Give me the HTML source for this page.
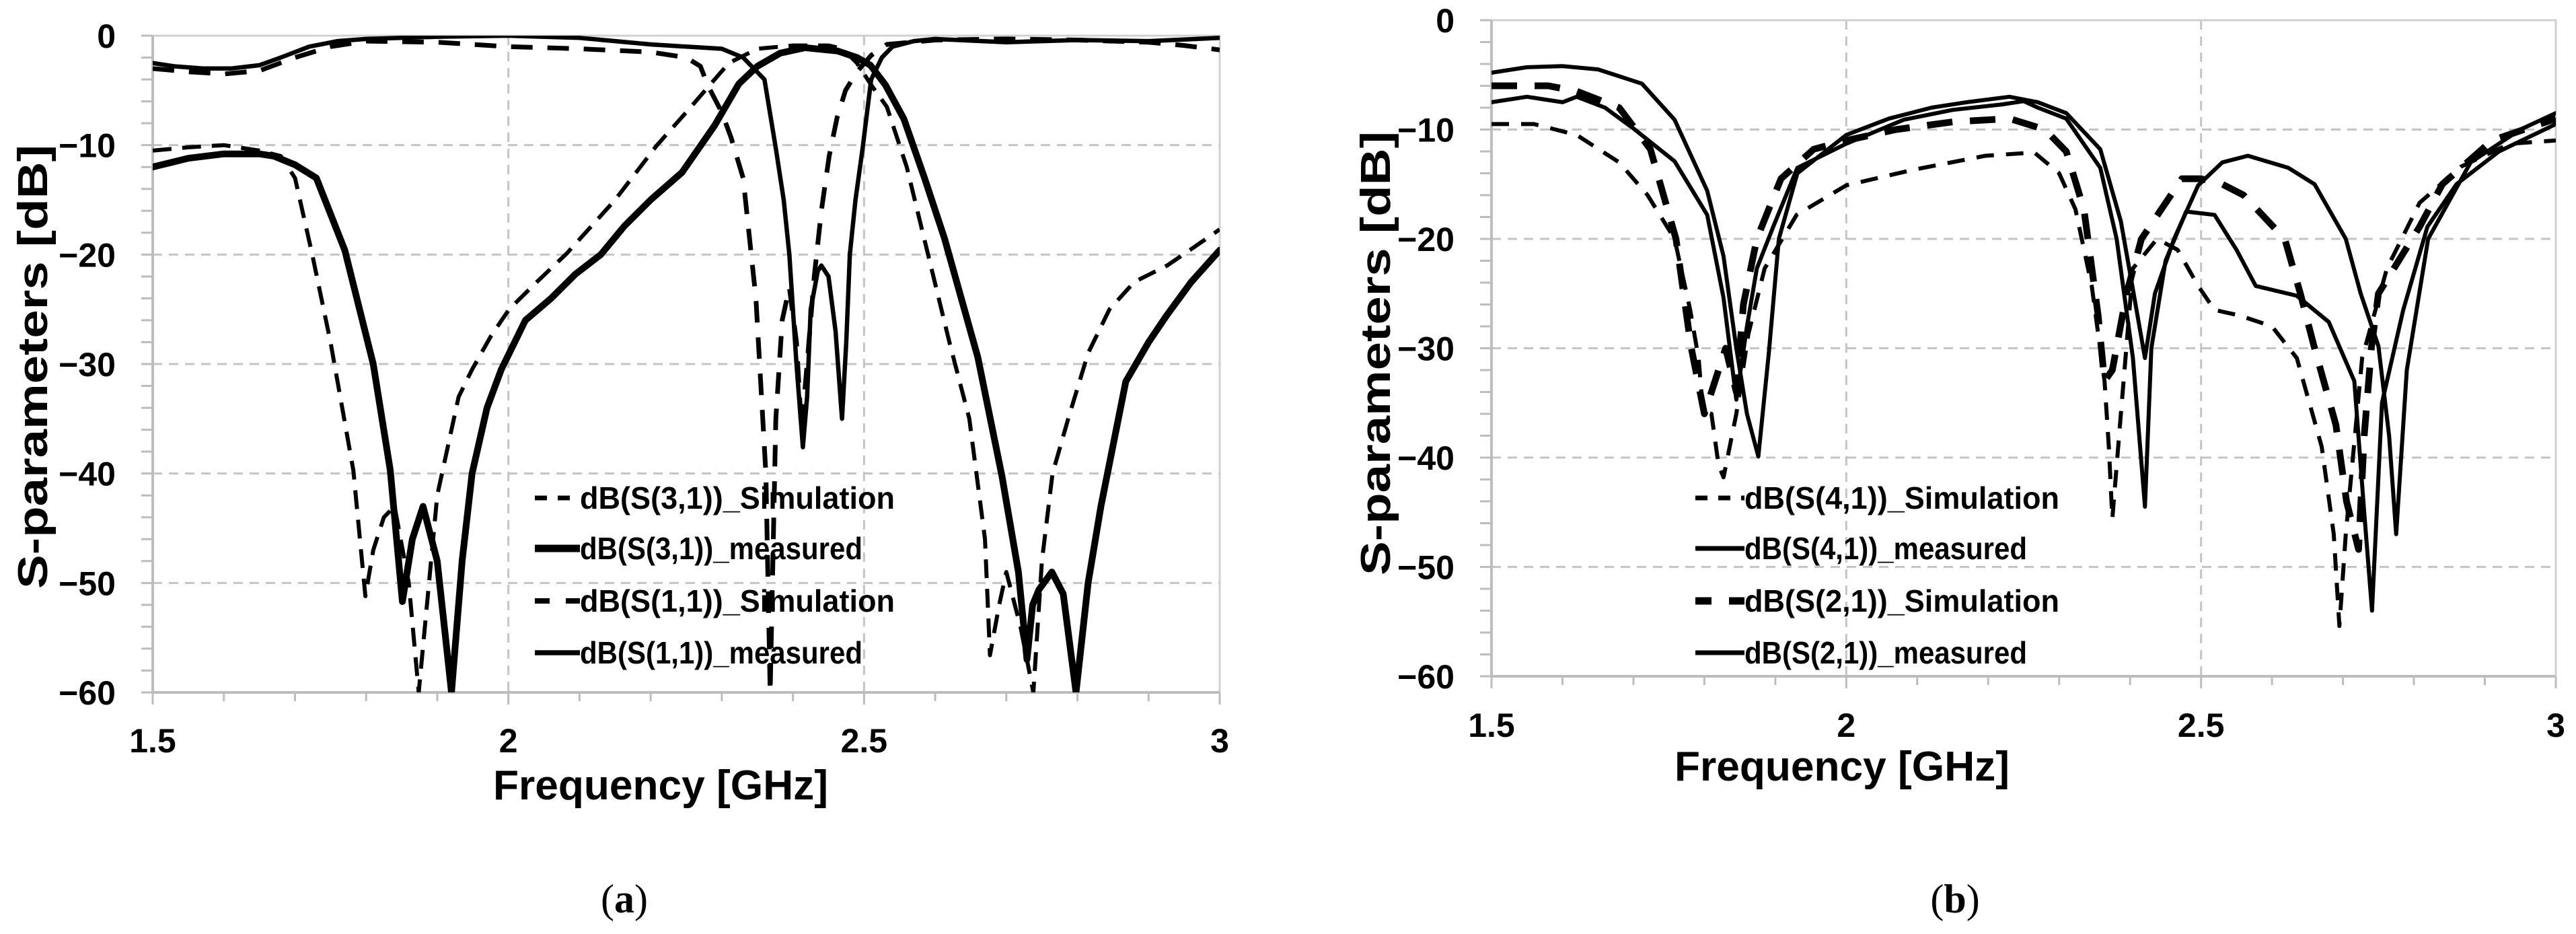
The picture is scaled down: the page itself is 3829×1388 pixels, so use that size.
<!DOCTYPE html>
<html><head><meta charset="utf-8"><style>
html,body{margin:0;padding:0;background:#fff;}
svg{display:block;font-family:"Liberation Sans",sans-serif;}
</style></head><body>
<svg id="fig" width="3829" height="1388" viewBox="0 0 3829 1388" xmlns="http://www.w3.org/2000/svg">
<defs>
<clipPath id="clipA"><rect x="227" y="53" width="1586" height="976"/></clipPath>
<clipPath id="clipB"><rect x="2217" y="30" width="1582" height="975"/></clipPath>
</defs>
<g id="panelA"></g>
<g id="panelB"></g>
<text x="928" y="1356" font-family="'Liberation Serif',serif" font-size="60" text-anchor="middle">(<tspan font-weight="bold">a</tspan>)</text>
<text x="2906" y="1356" font-family="'Liberation Serif',serif" font-size="60" text-anchor="middle">(<tspan font-weight="bold">b</tspan>)</text>
</svg>
<script>
// ---- shared axis data ----
const xTicks = [1.5, 2, 2.5, 3];
const xTickLabels = ["1.5", "2", "2.5", "3"];
const yTicks = [0, -10, -20, -30, -40, -50, -60];
const yTickLabels = ["0", "\u221210", "\u221220", "\u221230", "\u221240", "\u221250", "\u221260"];

// ---- panel (a) data ----
const s31SimF = [1.5,1.55,1.6,1.65,1.68,1.70,1.724,1.75,1.782,1.799,1.81,1.825,1.84,1.86,1.874,1.9,1.93,1.949,1.975,2.001,2.04,2.082,2.15,2.209,2.25,2.278,2.31,2.35,2.40,2.45,2.47,2.49,2.51,2.532,2.56,2.59,2.62,2.648,2.67,2.677,2.69,2.70,2.72,2.738,2.75,2.765,2.787,2.815,2.845,2.88,2.926,2.96,3.0];
const s31SimDb = [-10.5,-10.2,-10,-10.5,-11,-13,-19.9,-28,-39.7,-51.2,-47,-44,-43,-50,-60,-42,-33,-30.5,-27.5,-25,-22.5,-19.9,-15,-10,-7,-4.9,-2.5,-1.2,-0.9,-0.9,-1.2,-2.5,-4.5,-6.5,-12,-20,-28,-35,-46,-56.6,-52,-49,-54,-60,-48,-40,-35,-29,-25,-22.5,-21,-19.5,-17.7];
const s31MeasF = [1.5,1.55,1.6,1.65,1.67,1.70,1.73,1.77,1.81,1.834,1.851,1.865,1.88,1.9,1.92,1.935,1.949,1.97,1.99,2.024,2.06,2.094,2.13,2.163,2.2,2.244,2.29,2.324,2.35,2.382,2.417,2.463,2.49,2.509,2.53,2.556,2.585,2.613,2.66,2.694,2.717,2.729,2.737,2.746,2.764,2.78,2.798,2.815,2.833,2.868,2.9,2.925,2.96,3.0];
const s31MeasDb = [-12,-11.2,-10.8,-10.8,-11,-11.8,-13,-19.6,-30,-39.7,-51.7,-46,-43,-48,-60,-48,-40,-34,-30.5,-26,-24,-21.8,-20,-17.4,-15,-12.5,-8.2,-4.4,-2.8,-1.6,-1.1,-1.4,-2,-2.7,-4.5,-7.6,-13,-18.5,-29.4,-40.3,-49,-57,-52,-50.6,-49,-51,-60,-50,-43,-31.6,-28,-25.6,-22.5,-19.6];
const s11SimF = [1.5,1.55,1.6,1.65,1.7,1.75,1.8,1.9,2.0,2.1,2.2,2.25,2.27,2.28,2.3,2.313,2.33,2.348,2.362,2.368,2.376,2.385,2.395,2.405,2.412,2.42,2.43,2.44,2.451,2.462,2.474,2.49,2.51,2.532,2.6,2.7,2.8,2.9,2.95,3.0];
const s11SimDb = [-3,-3.3,-3.5,-3.2,-2,-1,-0.5,-0.6,-1,-1.2,-1.5,-2,-2.8,-4.5,-7,-9.3,-13,-24,-40,-60,-35,-26,-23,-28,-36,-30,-22,-16,-11,-7.5,-5,-3.3,-1.8,-0.8,-0.4,-0.3,-0.4,-0.6,-0.9,-1.3];
const s11MeasF = [1.5,1.53,1.57,1.61,1.65,1.68,1.72,1.76,1.8,1.9,2.0,2.1,2.15,2.2,2.25,2.3,2.33,2.36,2.376,2.387,2.395,2.405,2.414,2.42,2.425,2.435,2.44,2.45,2.46,2.469,2.475,2.48,2.488,2.498,2.51,2.525,2.54,2.57,2.6,2.7,2.8,2.9,3.0];
const s11MeasDb = [-2.5,-2.8,-3,-3,-2.7,-2,-1,-0.5,-0.3,-0.1,0,-0.2,-0.5,-0.8,-1,-1.2,-2,-4,-10.3,-15,-20,-30,-37.6,-33,-25,-21.5,-21,-22,-27,-35,-28,-20,-15,-10.3,-4,-2,-1,-0.5,-0.3,-0.6,-0.4,-0.5,-0.2];

// ---- panel (b) data ----
const s41SimF = [1.5,1.56,1.62,1.68,1.72,1.758,1.78,1.792,1.798,1.81,1.82,1.827,1.845,1.862,1.885,1.93,2.0,2.093,2.196,2.265,2.3,2.323,2.346,2.364,2.37,2.375,2.387,2.404,2.438,2.467,2.496,2.519,2.554,2.6,2.635,2.67,2.687,2.695,2.704,2.727,2.762,2.808,2.866,2.935,3.0];
const s41SimDb = [-9.5,-9.5,-10.5,-13,-16,-20,-26.5,-31,-35.8,-36,-40.7,-41.8,-36,-28.7,-22.7,-17.8,-15.1,-13.7,-12.4,-12.1,-14,-17.3,-24.3,-33,-39,-45.6,-36,-22.7,-20,-21,-24.3,-26.5,-27,-28,-30.9,-39,-47,-55.4,-47,-30.9,-22.7,-16.7,-13.4,-11.3,-11];
const s41MeasF = [1.5,1.55,1.6,1.62,1.66,1.7,1.758,1.804,1.827,1.845,1.86,1.874,1.897,1.931,2.0,2.081,2.15,2.22,2.25,2.27,2.31,2.358,2.381,2.404,2.421,2.43,2.45,2.479,2.519,2.55,2.577,2.635,2.68,2.716,2.73,2.741,2.755,2.785,2.819,2.86,2.92,3.0];
const s41MeasDb = [-7.5,-7,-7.5,-7,-8,-9.9,-12.9,-17.8,-25.4,-34.7,-28,-22.7,-18.9,-13.5,-11.3,-9.1,-8.2,-7.7,-7.4,-8,-9,-13.5,-20,-30.9,-44.5,-30,-22,-17.5,-17.8,-21,-24.3,-25.2,-27.6,-33,-45,-54,-35,-26.5,-18.9,-15,-12,-9.5];
const s21SimF = [1.5,1.58,1.62,1.68,1.724,1.76,1.781,1.80,1.815,1.83,1.845,1.855,1.874,1.908,1.954,2.0,2.07,2.15,2.23,2.28,2.31,2.335,2.355,2.364,2.375,2.395,2.416,2.473,2.5,2.53,2.56,2.618,2.64,2.66,2.69,2.705,2.722,2.73,2.74,2.75,2.808,2.84,2.91,3.0];
const s21SimDb = [-6,-6,-6.5,-8,-11.8,-20,-29.8,-36,-33,-30,-34,-26,-20,-14.5,-11.8,-11,-10,-9.3,-9,-10,-12,-17.3,-27,-33,-32,-25,-20,-14.5,-14.5,-15,-16,-20,-25,-30,-37,-44,-48.4,-38,-30,-25,-18.9,-15,-11,-9];
const s21MeasF = [1.5,1.55,1.6,1.65,1.712,1.758,1.804,1.827,1.845,1.86,1.876,1.891,1.905,1.931,2.0,2.06,2.12,2.17,2.23,2.27,2.31,2.358,2.387,2.405,2.421,2.435,2.462,2.496,2.53,2.566,2.623,2.66,2.704,2.725,2.75,2.765,2.775,2.79,2.82,2.88,2.95,3.0];
const s21MeasDb = [-4.8,-4.3,-4.2,-4.5,-5.8,-9.1,-15.6,-21.6,-30,-36,-39.9,-30.3,-20,-14,-10.5,-9,-8,-7.5,-7,-7.5,-8.5,-11.8,-18.4,-25,-30.9,-25,-20,-15.1,-13,-12.4,-13.5,-15,-20,-25,-29.8,-38,-47,-32,-20,-13,-10,-8.5];

const legendA = ["dB(S(3,1))_Simulation","dB(S(3,1))_measured","dB(S(1,1))_Simulation","dB(S(1,1))_measured"];
const legendB = ["dB(S(4,1))_Simulation","dB(S(4,1))_measured","dB(S(2,1))_Simulation","dB(S(2,1))_measured"];

const NS = "http://www.w3.org/2000/svg";
function mk(tag, attrs, parent) {
  const e = document.createElementNS(NS, tag);
  for (const k in attrs) e.setAttribute(k, attrs[k]);
  parent.appendChild(e);
  return e;
}

function drawPanel(g, cfg) {
  const L = cfg.left, R = cfg.right, T = cfg.top, B = cfg.bottom;
  const sx = f => L + (f - 1.5) / 1.5 * (R - L);
  const sy = d => T + (-d) / 60 * (B - T);
  const grey = "#c4c4c4";
  for (const v of [-10, -20, -30, -40, -50]) {
    const ln = mk("line", {x1: L, x2: R, y1: sy(v), y2: sy(v), stroke: grey, "stroke-width": 3, "stroke-dasharray": "14 10"}, g);
    
    
  }
  for (const v of [2, 2.5]) {
    const ln = mk("line", {x1: sx(v), x2: sx(v), y1: T, y2: B, stroke: grey, "stroke-width": 3, "stroke-dasharray": "14 10"}, g);
    
    
  }
  const fr = mk("path", {d: `M${L},${T}H${R}V${B}`, fill: "none", stroke: "#d0d0d0", "stroke-width": 3}, g);
  
  
  const ax = mk("path", {d: `M${L},${T}V${B}H${R}`, fill: "none", stroke: "#bdbdbd", "stroke-width": 4}, g);
  
  
  for (let d = 0; d >= -60; d -= 2) {
    const t = mk("line", {x1: L - 17, x2: L, y1: sy(d), y2: sy(d), stroke: "#bdbdbd", "stroke-width": 3}, g);
    
    
  }
  for (let i = 0; i <= 15; i++) {
    const f = 1.5 + i * 0.1;
    const major = (i % 5 === 0);
    const t = mk("line", {x1: sx(f), x2: sx(f), y1: B, y2: B + (major ? 18 : 13), stroke: "#bdbdbd", "stroke-width": 3}, g);
    
    
  }
  yTicks.forEach((v, i) => {
    const t = mk("text", {x: cfg.yLabelX, y: sy(v) + 18, "text-anchor": "end", "font-size": 50, "font-weight": "bold"}, g);
    t.textContent = yTickLabels[i];
    
    
  });
  xTicks.forEach((v, i) => {
    const t = mk("text", {x: sx(v), y: cfg.xLabelY, "text-anchor": "middle", "font-size": 50, "font-weight": "bold"}, g);
    t.textContent = xTickLabels[i];
    
    
  });
  const xt = mk("text", {x: cfg.xTitleX, y: cfg.xTitleY, "text-anchor": "middle", "font-size": 62, "font-weight": "bold", textLength: 498, lengthAdjust: "spacingAndGlyphs"}, g);
  xt.textContent = "Frequency [GHz]";
  
  
  const yt = mk("text", {x: 0, y: 0, "text-anchor": "middle", "font-size": 62, "font-weight": "bold", textLength: 660, lengthAdjust: "spacingAndGlyphs", transform: `translate(${cfg.yTitleX},${cfg.yTitleY}) rotate(-90)`}, g);
  yt.textContent = "S-parameters [dB]";
  
  
  const sg = mk("g", {"clip-path": `url(#${cfg.clip})`}, g);
  
  
  cfg.series.forEach(s => {
    const pts = s.f.map((f, i) => `${sx(f).toFixed(1)},${sy(s.d[i]).toFixed(1)}`).join(" ");
    const attrs = {points: pts, fill: "none", stroke: "#000", "stroke-width": s.w, "stroke-linejoin": "round", "stroke-linecap": s.dash ? "butt" : "round"};
    if (s.dash) attrs["stroke-dasharray"] = s.dash;
    const p = mk("polyline", attrs, sg);
    
    
  });
  const lg = mk("g", {}, g);
  
  
  cfg.legend.forEach((txt, i) => {
    const s = cfg.series[i];
    const y = cfg.legRows[i];
    const la = {x1: cfg.legX1, x2: cfg.legX2, y1: y, y2: y, stroke: "#000", "stroke-width": s.w + 1};
    if (s.dash) la["stroke-dasharray"] = s.legDash;
    const ln = mk("line", la, lg);
    
    
    const t = mk("text", {x: cfg.legX2, y: y + 16, "font-size": 46, "font-weight": "bold", textLength: cfg.legW[i], lengthAdjust: "spacingAndGlyphs"}, lg);
    t.textContent = txt;
    
    
  });
}

drawPanel(document.getElementById("panelA"), {
  left: 227, right: 1813, top: 53, bottom: 1029, clip: "clipA",
  yLabelX: 172, xLabelY: 1118, xTitleX: 982, xTitleY: 1188, yTitleX: 70, yTitleY: 545,
  legX1: 795, legX2: 862, legRows: [740, 815, 893, 970], legW: [468, 420, 468, 420],
  legend: legendA,
  series: [
    {name: "s31-simulation-line", f: s31SimF, d: s31SimDb, w: 6, dash: "28 16", legDash: "18 16"},
    {name: "s31-measured-line", f: s31MeasF, d: s31MeasDb, w: 10},
    {name: "s11-simulation-line", f: s11SimF, d: s11SimDb, w: 7, dash: "32 22", legDash: "22 24"},
    {name: "s11-measured-line", f: s11MeasF, d: s11MeasDb, w: 6.5}
  ]
});

drawPanel(document.getElementById("panelB"), {
  left: 2217, right: 3799, top: 30, bottom: 1005, clip: "clipB",
  yLabelX: 2162, xLabelY: 1095, xTitleX: 2738, xTitleY: 1160, yTitleX: 2066, yTitleY: 525,
  legX1: 2520, legX2: 2593, legRows: [740, 815, 893, 970], legW: [468, 420, 468, 420],
  legend: legendB,
  series: [
    {name: "s41-simulation-line", f: s41SimF, d: s41SimDb, w: 6, dash: "26 18", legDash: "18 16"},
    {name: "s41-measured-line", f: s41MeasF, d: s41MeasDb, w: 6},
    {name: "s21-simulation-line", f: s21SimF, d: s21SimDb, w: 10, dash: "38 26", legDash: "24 26"},
    {name: "s21-measured-line", f: s21MeasF, d: s21MeasDb, w: 6}
  ]
});
</script>
</body></html>
